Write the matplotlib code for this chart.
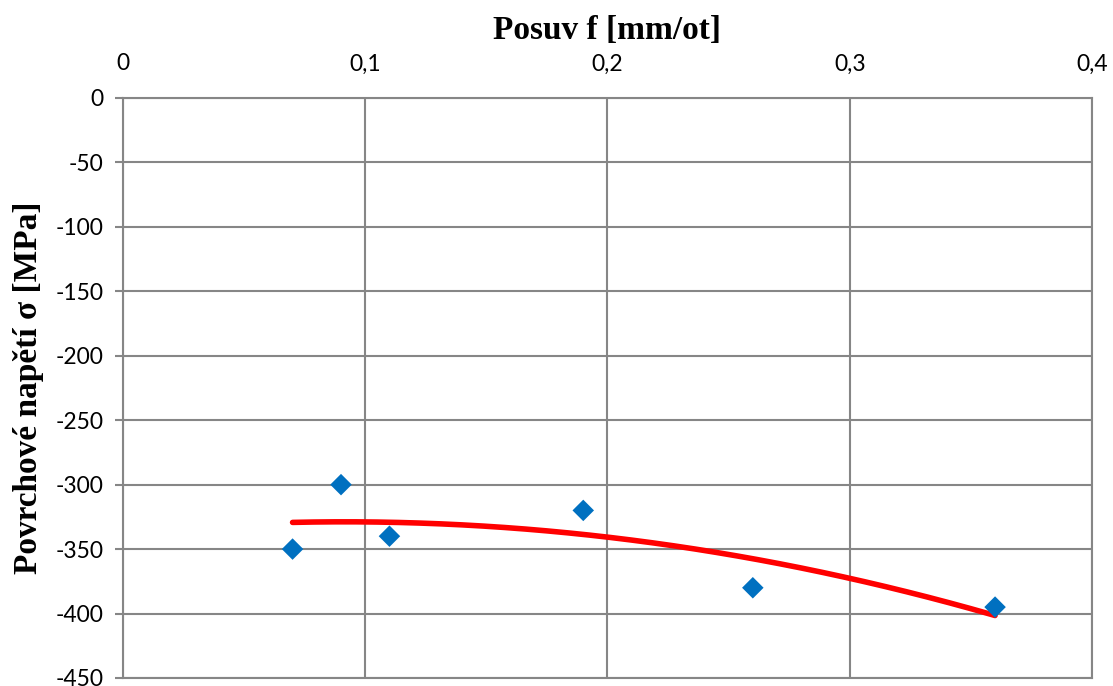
import numpy as np
import matplotlib.pyplot as plt
from matplotlib.ticker import FuncFormatter

# feed [mm/ot] vs surface stress [MPa]
feed = [0.07, 0.09, 0.11, 0.19, 0.26, 0.36]
stress = [-350, -300, -340, -320, -380, -395]

x_ticks = [0, 0.1, 0.2, 0.3, 0.4]
y_ticks = list(range(0, -451, -50))

grid_col = '#868686'
tick_font = 'Lato'
label_font = 'Liberation Serif'

fig = plt.figure(figsize=(11.13, 6.86), dpi=100)
ax = fig.add_axes([0.1105, 0.0117, 0.8706, 0.8455])

# polynomial (2nd order) trendline like Excel
coef = np.polyfit(feed, stress, 2)
xs = np.linspace(min(feed), max(feed), 200)
ax.plot(xs, np.polyval(coef, xs), color='#FF0000', linewidth=4, solid_capstyle='round', zorder=3)

ax.scatter(feed, stress, marker='D', s=120, color='#0070C0', edgecolors='none', zorder=4)

ax.set_xlim(0, 0.4)
ax.set_ylim(-450, 0)
ax.set_xticks(x_ticks)
ax.set_yticks(y_ticks)
ax.xaxis.tick_top()
ax.xaxis.set_label_position('top')
ax.xaxis.set_major_formatter(FuncFormatter(lambda v, p: ('%g' % round(v, 2)).replace('.', ',')))
ax.yaxis.set_major_formatter(FuncFormatter(lambda v, p: '%d' % v))
ax.tick_params(axis='x', length=0, pad=17, labelsize=16.5)
ax.tick_params(axis='y', length=6, width=1.5, color=grid_col, pad=8, labelsize=16.5)
for lab in ax.get_xticklabels() + ax.get_yticklabels():
    lab.set_fontfamily(tick_font)

ax.grid(True, color=grid_col, linewidth=1.5)
ax.set_axisbelow(True)
for sp in ax.spines.values():
    sp.set_color(grid_col)
    sp.set_linewidth(1.5)

ax.set_xlabel('Posuv f [mm/ot]', fontfamily=label_font, fontweight='bold', fontsize=24, labelpad=10)
ax.set_ylabel('Povrchové napětí σ [MPa]', fontfamily=label_font, fontweight='bold', fontsize=24, labelpad=8)

fig.savefig('out.png', dpi=100)
